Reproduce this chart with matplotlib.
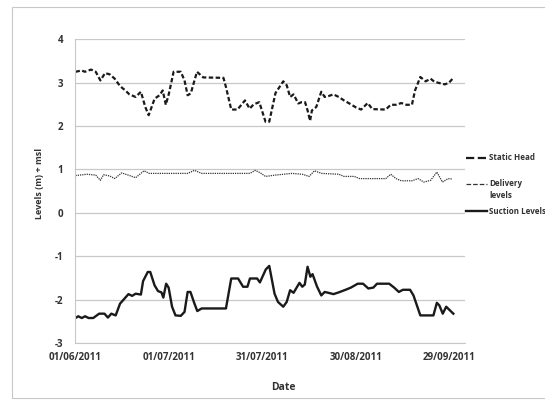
import matplotlib
matplotlib.use("Agg")
import matplotlib.pyplot as plt
from matplotlib.lines import Line2D
from matplotlib.patches import Rectangle
import pandas as pd

plt.rcParams['font.family'] = ['Open Sans', 'DejaVu Sans']
plt.rcParams['axes.unicode_minus'] = False

start_date = "2011-06-01"

# Static Head: day offsets from 01/06/2011 and levels
static_days = [0, 2, 3, 5, 6.5, 8, 9.5, 11, 12.6, 14.3, 16, 17.3, 19.3, 21, 22.4, 23.5,
               25.4, 27, 28, 29, 30, 31.5, 33.8, 35, 36, 37, 39, 41, 47.5, 48.3, 50, 52,
               54.4, 55.9, 57.2, 59, 61, 62.2, 64.2, 66.7, 67.8, 68.9, 70, 71.5, 72.6,
               73.7, 74.5, 75.3, 75.9, 77.3, 78.9, 80, 81.2, 82.8, 84.5, 86.2, 88.4, 90,
               91.7, 93.8, 95.3, 99.6, 101.2, 102.9, 104.6, 106.2, 108, 109, 110.7, 112.4,
               114, 115.2, 116.8, 118.5, 119.8, 121.3]
static_vals = [3.25, 3.28, 3.25, 3.30, 3.25, 3.05, 3.22, 3.19, 3.09, 2.92, 2.82, 2.73, 2.67,
               2.79, 2.44, 2.25, 2.63, 2.71, 2.82, 2.49, 2.75, 3.25, 3.25, 3.05, 2.71, 2.75,
               3.25, 3.12, 3.11, 2.90, 2.38, 2.38, 2.59, 2.40, 2.50, 2.55, 2.10, 2.10, 2.76,
               3.03, 2.94, 2.67, 2.73, 2.52, 2.55, 2.55, 2.36, 2.12, 2.36, 2.44, 2.79, 2.67,
               2.69, 2.73, 2.67, 2.59, 2.50, 2.43, 2.38, 2.53, 2.39, 2.38, 2.49, 2.49, 2.53,
               2.49, 2.49, 2.82, 3.13, 3.03, 3.09, 3.02, 2.99, 2.96, 2.99, 3.11]

# Delivery levels
delivery_days = [0, 3.7, 6.5, 8, 9, 11, 12.6, 14.8, 17, 19.3, 22, 23.7, 36, 38.2, 40.5, 56,
                 57.7, 59.4, 61, 64, 69.5, 72.8, 75, 76.7, 79, 84.5, 86.2, 89.5, 91.2, 99.6,
                 101.2, 102.9, 104.6, 108, 110, 111.8, 114, 116, 117.8, 119.6, 121]
delivery_vals = [0.86, 0.89, 0.87, 0.75, 0.88, 0.85, 0.79, 0.92, 0.87, 0.81, 0.97, 0.91, 0.91,
                 0.98, 0.91, 0.91, 0.98, 0.92, 0.84, 0.87, 0.91, 0.89, 0.84, 0.97, 0.91, 0.89,
                 0.84, 0.84, 0.79, 0.79, 0.89, 0.79, 0.74, 0.74, 0.79, 0.71, 0.75, 0.94, 0.71,
                 0.79, 0.78]

# Suction Levels
suction_days = [0, 0.9, 2, 3.1, 4.2, 5.7, 7.6, 9.3, 10.4, 11.5, 12.9, 14.3, 17, 18.2, 19.3,
                21, 21.7, 23.2, 24, 25.4, 26.5, 27.6, 28.2, 29.1, 29.9, 31, 32.1, 33.8, 35,
                36, 36.9, 38.2, 39.1, 40.5, 48.3, 50, 52.2, 53.8, 55.2, 56, 58.3, 59.2, 61.1,
                62.2, 63.9, 65, 66.7, 67.8, 68.9, 70, 71.9, 72.8, 73.6, 74.5, 75.4, 76.1,
                77.5, 78.9, 80, 81.2, 82.8, 84.5, 86.7, 88.4, 90.6, 92.3, 94, 95.6, 96.8,
                100.7, 102.3, 103.8, 105.1, 107.4, 108.5, 110.7, 112.4, 114.9, 116, 116.8,
                117.9, 119, 120, 121.3]
suction_vals = [-2.42, -2.38, -2.42, -2.38, -2.42, -2.42, -2.32, -2.32, -2.41, -2.32, -2.36,
                -2.09, -1.87, -1.91, -1.86, -1.88, -1.57, -1.36, -1.36, -1.67, -1.80, -1.83,
                -1.95, -1.63, -1.72, -2.16, -2.36, -2.37, -2.28, -1.82, -1.82, -2.09, -2.26,
                -2.20, -2.20, -1.51, -1.51, -1.70, -1.70, -1.51, -1.51, -1.60, -1.30, -1.22,
                -1.86, -2.05, -2.16, -2.05, -1.78, -1.84, -1.61, -1.70, -1.65, -1.24, -1.47,
                -1.41, -1.69, -1.90, -1.82, -1.84, -1.87, -1.83, -1.77, -1.72, -1.63, -1.63,
                -1.74, -1.72, -1.63, -1.63, -1.72, -1.82, -1.77, -1.77, -1.90, -2.36, -2.36,
                -2.36, -2.07, -2.13, -2.32, -2.16, -2.23, -2.32]

tick_labels = ["01/06/2011", "01/07/2011", "31/07/2011", "30/08/2011", "29/09/2011"]
y_ticks = [-3, -2, -1, 0, 1, 2, 3, 4]


def to_dates(days):
    return pd.Timestamp(start_date) + pd.to_timedelta(days, unit="D")


fig = plt.figure(figsize=(5.45, 4.0), dpi=100)
fig.patches.append(Rectangle((12 / 545, 2 / 400), 1.0, 391 / 400, transform=fig.transFigure,
                             fill=False, edgecolor="#c8c8c8", linewidth=0.8))

ax = fig.add_axes([0.1385, 0.142, 0.7145, 0.760])

l1, = ax.plot(to_dates(static_days), static_vals, color="#1a1a1a", linewidth=1.6,
              linestyle=(0, (2.0, 1.1)))
l2, = ax.plot(to_dates(delivery_days), delivery_vals, color="#333333", linewidth=0.9,
              linestyle=(0, (1, 0.8)))
l3, = ax.plot(to_dates(suction_days), suction_vals, color="#1a1a1a", linewidth=1.7)

ax.set_ylim(-3, 4)
ax.set_yticks(y_ticks)
ax.set_xlim(pd.Timestamp("2011-06-01"), pd.Timestamp("2011-10-04"))
tick_dates = [pd.to_datetime(t, format="%d/%m/%Y") for t in tick_labels]
ax.set_xticks(tick_dates)
ax.set_xticklabels(tick_labels)

ax.grid(axis="y", color="#c8c8c8", linewidth=0.9)
ax.set_axisbelow(True)
for s in ["top", "right"]:
    ax.spines[s].set_visible(False)
ax.spines["left"].set_color("#c8c8c8")
ax.spines["bottom"].set_color("#c8c8c8")
ax.tick_params(axis="both", length=0, labelsize=7, colors="#333333", pad=6)
ax.tick_params(axis="y", pad=9)
for lab in ax.get_xticklabels() + ax.get_yticklabels():
    lab.set_fontweight("bold")

fig.text(40 / 545, 1 - 183 / 400, "Levels (m) + msl", rotation=90, ha="center", va="center",
         fontsize=6.5, fontweight="bold", color="#333333")
fig.text(283 / 545, 1 - 387 / 400, "Date", ha="center", va="center", fontsize=7.5,
         fontweight="bold", color="#333333")

# legend drawn manually
legend_items = [(l1, ["Static Head"], 158), (l2, ["Delivery", "levels"], 184),
                (l3, ["Suction Levels"], 211)]
for line, texts, ypix in legend_items:
    yf = 1 - ypix / 400
    fig.add_artist(Line2D([466 / 545, 487 / 545], [yf, yf], transform=fig.transFigure,
                          color=line.get_color(), linewidth=line.get_linewidth(),
                          linestyle=line.get_linestyle()))
    for i, t in enumerate(texts):
        fig.text(489 / 545, yf - i * 12 / 400, t, ha="left", va="center", fontsize=5.8,
                 fontweight="bold", color="#333333")

fig.savefig("out.png", dpi=100)
